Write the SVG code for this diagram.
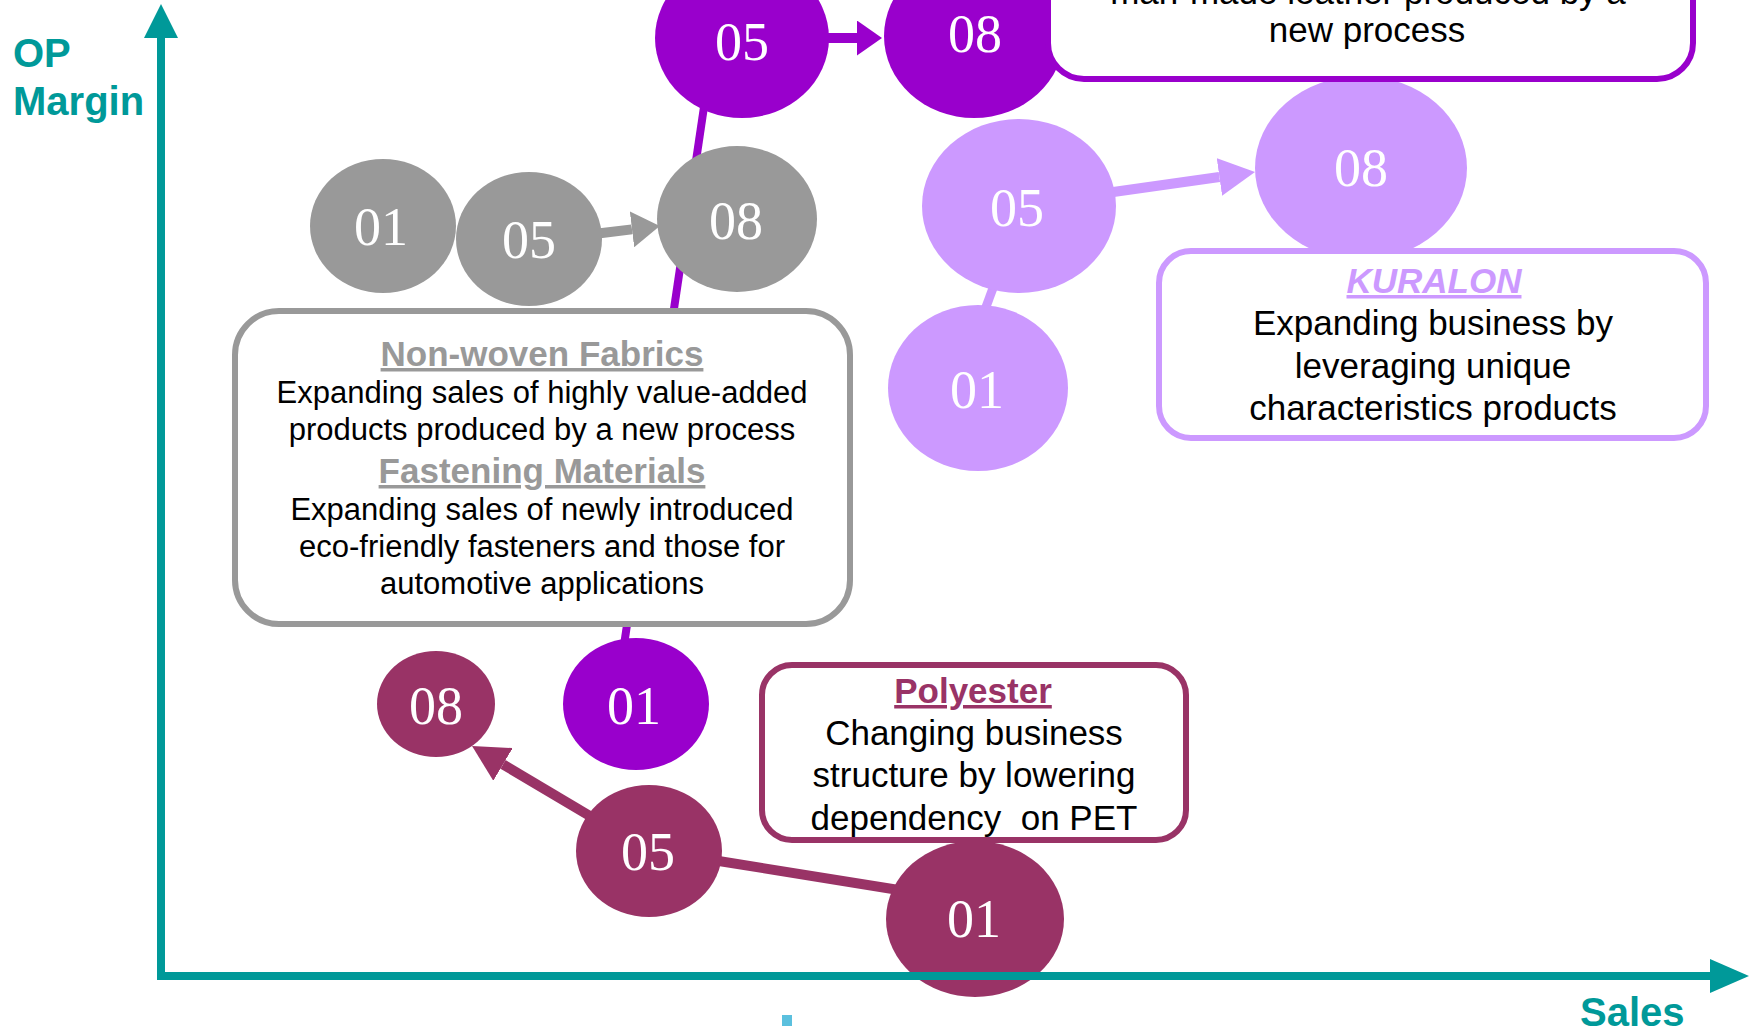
<svg xmlns="http://www.w3.org/2000/svg" width="1751" height="1026" viewBox="0 0 1751 1026">
<style>
.num{font-family:"Liberation Serif","Times New Roman",serif;font-size:54px;fill:#ffffff;text-anchor:middle}
.body{font-family:"Liberation Sans",Arial,sans-serif;fill:#000000;text-anchor:middle}
.head{font-family:"Liberation Sans",Arial,sans-serif;font-weight:bold;text-anchor:middle;text-decoration:underline}
.axlbl{font-family:"Liberation Sans",Arial,sans-serif;font-weight:bold;font-size:40px;fill:#009999}
.box{fill:#ffffff;stroke-width:6}
.dk{fill:#9900CC}.gy{fill:#999999}.lt{fill:#CC99FF}.py{fill:#993366}
</style>
<defs>
<marker id="hd-dk" viewBox="0 0 10 10" refX="0" refY="5" markerUnits="userSpaceOnUse" markerWidth="25" markerHeight="35" orient="auto" preserveAspectRatio="none"><path d="M0,0L10,5L0,10z" fill="#9900CC"/></marker>
<marker id="hd-gy" viewBox="0 0 10 10" refX="0" refY="5" markerUnits="userSpaceOnUse" markerWidth="28" markerHeight="36" orient="auto" preserveAspectRatio="none"><path d="M0,0L10,5L0,10z" fill="#999999"/></marker>
<marker id="hd-lt" viewBox="0 0 10 10" refX="0" refY="5" markerUnits="userSpaceOnUse" markerWidth="36" markerHeight="38" orient="auto" preserveAspectRatio="none"><path d="M0,0L10,5L0,10z" fill="#CC99FF"/></marker>
<marker id="hd-py" viewBox="0 0 10 10" refX="0" refY="5" markerUnits="userSpaceOnUse" markerWidth="36" markerHeight="38" orient="auto" preserveAspectRatio="none"><path d="M0,0L10,5L0,10z" fill="#993366"/></marker>
</defs>
<rect width="1751" height="1026" fill="#ffffff"/>

<g id="connectors" fill="none">
<line x1="708" y1="80" x2="620" y2="672" stroke="#9900CC" stroke-width="8"/>
<line x1="820" y1="38" x2="857" y2="38" stroke="#9900CC" stroke-width="10" marker-end="url(#hd-dk)"/>
<line x1="598" y1="233.5" x2="632" y2="229.4" stroke="#999999" stroke-width="10" marker-end="url(#hd-gy)"/>
<line x1="1108" y1="192.8" x2="1219.4" y2="177" stroke="#CC99FF" stroke-width="10" marker-end="url(#hd-lt)"/>
<line x1="996" y1="280" x2="983" y2="315" stroke="#CC99FF" stroke-width="9"/>
<line x1="600" y1="822" x2="503" y2="764.4" stroke="#993366" stroke-width="10" marker-end="url(#hd-py)"/>
<line x1="700" y1="858" x2="905" y2="891" stroke="#993366" stroke-width="10"/>
</g>

<g id="node-nylon-05"><ellipse class="dk" cx="742" cy="38" rx="87" ry="80"/><text class="num" x="742" y="60">05</text></g>
<g id="node-nylon-08"><ellipse class="dk" cx="974" cy="36" rx="90" ry="82"/><text class="num" x="975" y="52">08</text></g>
<g id="node-nylon-01"><ellipse class="dk" cx="636" cy="704" rx="73" ry="66"/><text class="num" x="634" y="724">01</text></g>

<g id="node-nonwoven-01"><ellipse class="gy" cx="383" cy="226" rx="73" ry="67"/><text class="num" x="381" y="245">01</text></g>
<g id="node-nonwoven-05"><ellipse class="gy" cx="529" cy="239" rx="73" ry="67"/><text class="num" x="529" y="258">05</text></g>
<g id="node-nonwoven-08"><ellipse class="gy" cx="737" cy="219" rx="80" ry="73"/><text class="num" x="736" y="239">08</text></g>

<g id="node-kuralon-05"><ellipse class="lt" cx="1019" cy="206" rx="97" ry="87"/><text class="num" x="1017" y="226">05</text></g>
<g id="node-kuralon-08"><ellipse class="lt" cx="1361" cy="168" rx="106" ry="92"/><text class="num" x="1361" y="186">08</text></g>
<g id="node-kuralon-01"><ellipse class="lt" cx="978" cy="388" rx="90" ry="83"/><text class="num" x="977" y="408">01</text></g>

<g id="node-polyester-08"><ellipse class="py" cx="436" cy="704" rx="59" ry="53"/><text class="num" x="436" y="724">08</text></g>
<g id="node-polyester-05"><ellipse class="py" cx="649" cy="851" rx="73" ry="66"/><text class="num" x="648" y="870">05</text></g>
<g id="node-polyester-01"><ellipse class="py" cx="975" cy="919" rx="89" ry="78"/><text class="num" x="974" y="937">01</text></g>

<g id="box-nylon">
<rect class="box" x="1048" y="-60" width="645" height="139" rx="36" stroke="#9900CC"/>
<text class="body" font-size="35" x="1368" y="4">man-made leather produced by a</text>
<text class="body" font-size="35" x="1367" y="42">new process</text>
</g>

<g id="box-nonwoven">
<rect class="box" x="235" y="311" width="615" height="313" rx="44" stroke="#999999"/>
<text class="head" font-size="35" fill="#999999" x="542" y="366">Non-woven Fabrics</text>
<text class="body" font-size="31" x="542" y="403">Expanding sales of highly value-added</text>
<text class="body" font-size="31" x="542" y="440">products produced by a new process</text>
<text class="head" font-size="35" fill="#999999" x="542" y="483">Fastening Materials</text>
<text class="body" font-size="31" x="542" y="520">Expanding sales of newly introduced</text>
<text class="body" font-size="31" x="542" y="557">eco-friendly fasteners and those for</text>
<text class="body" font-size="31" x="542" y="594">automotive applications</text>
</g>

<g id="box-kuralon">
<rect class="box" x="1159" y="251" width="547" height="187" rx="32" stroke="#CC99FF"/>
<text class="head" font-size="35" fill="#CC99FF" font-style="italic" x="1434" y="293">KURALON</text>
<text class="body" font-size="35" x="1433" y="335">Expanding business by</text>
<text class="body" font-size="35" x="1433" y="378">leveraging unique</text>
<text class="body" font-size="35" x="1433" y="420">characteristics products</text>
</g>

<g id="box-polyester">
<rect class="box" x="762" y="665" width="424" height="175" rx="30" stroke="#993366"/>
<text class="head" font-size="35" fill="#993366" x="973" y="703">Polyester</text>
<text class="body" font-size="35" x="974" y="745">Changing business</text>
<text class="body" font-size="35" x="974" y="787">structure by lowering</text>
<text class="body" font-size="35" x="974" y="830" style="white-space:pre">dependency  on PET</text>
</g>

<g id="axes">
<line x1="161" y1="980" x2="161" y2="36" stroke="#009999" stroke-width="8"/>
<polygon points="161,4 144,38 178,38" fill="#009999"/>
<line x1="157" y1="976" x2="1712" y2="976" stroke="#009999" stroke-width="8"/>
<polygon points="1749,976 1710,959 1710,993" fill="#009999"/>
<text class="axlbl" x="13" y="67">OP</text>
<text class="axlbl" x="13" y="115">Margin</text>
<text class="axlbl" x="1580" y="1026">Sales</text>
</g>

<rect x="782" y="1015" width="10" height="11" fill="#5BC0DE"/>
</svg>
